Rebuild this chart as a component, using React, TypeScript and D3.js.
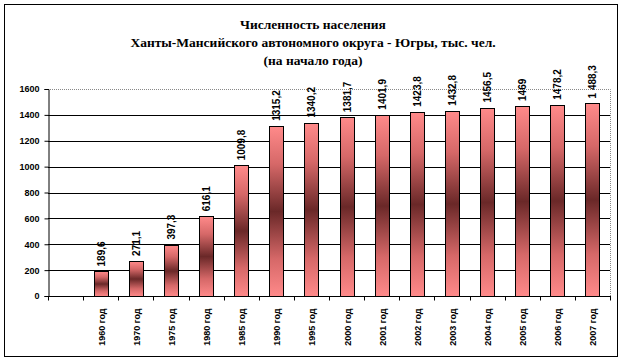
import React, { useEffect, useRef } from 'react';
import * as d3 from 'd3';

const years = ['', '1960 год', '1970 год', '1975 год', '1980 год', '1985 год', '1990 год', '1995 год', '2000 год', '2001 год', '2002 год', '2003 год', '2004 год', '2005 год', '2006 год', '2007 год'];
const population = [null, 189.6, 271.1, 397.3, 616.1, 1009.8, 1315.2, 1340.2, 1381.7, 1401.9, 1423.8, 1432.8, 1456.5, 1469, 1478.2, 1488.3];
const valueLabels = ['', '189,6', '271,1', '397,3', '616,1', '1009,8', '1315,2', '1340,2', '1381,7', '1401,9', '1423,8', '1432,8', '1456,5', '1469', '1478,2', '1 488,3'];
const yTicks = [0, 200, 400, 600, 800, 1000, 1200, 1400, 1600];
const titleLines = ['Численность населения', 'Ханты-Мансийского автономного округа - Югры, тыс. чел.', '(на начало года)'];

export default function App() {
  const ref = useRef<SVGSVGElement>(null);

  useEffect(() => {
    const W = 624, H = 362;
    const m = { left: 48, right: 14, top: 89, bottom: 66 };
    const svg = d3.select(ref.current);
    svg.selectAll('*').remove();

    // gradient for bars: light - dark - light
    const grad = svg.append('defs').append('linearGradient')
      .attr('id', 'barGrad').attr('x1', 0).attr('y1', 0).attr('x2', 0).attr('y2', 1);
    grad.append('stop').attr('offset', '0%').attr('stop-color', '#ff8a8a');
    grad.append('stop').attr('offset', '22%').attr('stop-color', '#d66868');
    grad.append('stop').attr('offset', '50%').attr('stop-color', '#6a2828');
    grad.append('stop').attr('offset', '78%').attr('stop-color', '#d66868');
    grad.append('stop').attr('offset', '100%').attr('stop-color', '#ff8a8a');

    svg.append('rect').attr('x', 4.5).attr('y', 4.5).attr('width', 613).attr('height', 352)
      .attr('fill', '#fff').attr('stroke', '#000');

    // title
    svg.append('g').selectAll('text').data(titleLines).enter().append('text')
      .attr('x', 313).attr('y', (d, i) => 29 + i * 18)
      .attr('text-anchor', 'middle')
      .style('font-family', '"Liberation Serif", "DejaVu Serif", serif')
      .style('font-weight', 'bold').style('font-size', '13.5px')
      .text(d => d);

    const x = d3.scaleBand().domain(years.map((d, i) => String(i)))
      .range([m.left, W - m.right]).paddingInner(0.6).paddingOuter(0.3);
    const y = d3.scaleLinear().domain([0, 1600]).range([H - m.bottom, m.top]);
    const step = x.step();
    const x0 = m.left;
    const x1 = W - m.right;

    // gridlines
    svg.append('g').selectAll('line').data(yTicks.slice(1, -1)).enter().append('line')
      .attr('x1', x0).attr('x2', x1)
      .attr('y1', d => Math.round(y(d)) + 0.5).attr('y2', d => Math.round(y(d)) + 0.5)
      .attr('stroke', '#000');

    // plot area border (top, right)
    svg.append('path')
      .attr('d', `M${x0},${Math.round(y(1600)) + 0.5}H${x1 + 0.5}V${Math.round(y(0))}`)
      .attr('fill', 'none').attr('stroke', '#888').attr('stroke-dasharray', '1,1');

    // bars
    svg.append('g').selectAll('rect')
      .data(population.map((v, i) => ({ v, i })).filter(d => d.v != null))
      .enter().append('rect')
      .attr('x', d => Math.round(x(String(d.i))!) + 0.5)
      .attr('width', Math.round(x.bandwidth()))
      .attr('y', d => Math.round(y(d.v as number)) + 0.5)
      .attr('height', d => Math.round(y(0)) - Math.round(y(d.v as number)))
      .attr('fill', 'url(#barGrad)').attr('stroke', '#000');

    // value labels
    svg.append('g').selectAll('text')
      .data(population.map((v, i) => ({ v, i })).filter(d => d.v != null))
      .enter().append('text')
      .attr('transform', d => `translate(${x(String(d.i))! + x.bandwidth() / 2 + 4},${y(d.v as number) - 5}) rotate(-90)`)
      .style('font-family', '"Liberation Sans", Arial, sans-serif')
      .attr('font-weight', 'bold').attr('font-size', '10px')
      .text(d => valueLabels[d.i]);

    // y axis
    const yAxis = svg.append('g').attr('transform', `translate(${x0 + 0.5},0)`)
      .call(d3.axisLeft(y).tickValues(yTicks).tickSize(4).tickFormat(d3.format('d')));
    yAxis.select('.domain').attr('stroke', '#000');
    yAxis.selectAll('text').style('font-family', '"Liberation Sans", Arial, sans-serif')
      .attr('font-weight', 'bold').attr('font-size', '9px').attr('x', -9);

    // x axis
    const xg = svg.append('g').attr('transform', `translate(0,${Math.round(y(0)) + 0.5})`);
    xg.append('line').attr('x1', x0).attr('x2', x1 + 1).attr('stroke', '#000');
    xg.selectAll('line.tick').data(d3.range(years.length + 1)).enter().append('line')
      .attr('class', 'tick')
      .attr('x1', i => Math.round(x0 + i * step) + 0.5).attr('x2', i => Math.round(x0 + i * step) + 0.5)
      .attr('y1', 0).attr('y2', 4).attr('stroke', '#000');
    xg.selectAll('text').data(years.map((d, i) => ({ d, i })).filter(d => d.d)).enter().append('text')
      .attr('transform', d => `translate(${x(String(d.i))! + x.bandwidth() / 2 + 4},${12}) rotate(-90)`)
      .attr('text-anchor', 'end')
      .style('font-family', '"Liberation Sans", Arial, sans-serif')
      .attr('font-weight', 'bold').attr('font-size', '9px')
      .text(d => d.d);
  }, []);

  return (
    <svg ref={ref} width={624} height={362} style={{ position: 'absolute', left: 0, top: 0, background: '#fff' }} />
  );
}
